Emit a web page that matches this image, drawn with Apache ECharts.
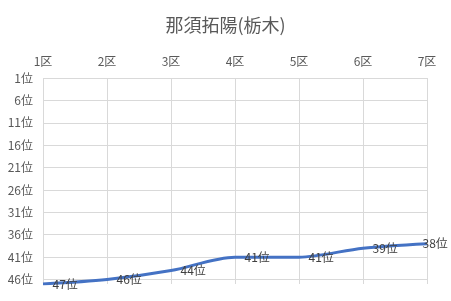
<!DOCTYPE html>
<html><head><meta charset="utf-8">
<script src="https://cdn.jsdelivr.net/npm/echarts@6/dist/echarts.min.js"></script>
<style>html,body{margin:0;padding:0;background:#fff}#c{width:451px;height:301px}</style>
</head><body><div id="c"></div>
<script>
const titleText = '那須拓陽(栃木)';
const categories = ['1区','2区','3区','4区','5区','6区','7区'];
const ranks = [47, 46, 44, 41, 41, 39, 38];
const rankMin = 1, rankMax = 47, rankStep = 5;
const font = '"Noto Sans CJK JP", "Noto Sans", sans-serif';
const chart = echarts.init(document.getElementById('c'), null, {renderer:'canvas'});
const seriesData = ranks.map((v, i) => i === ranks.length - 1
  ? {value: v, label: {offset: [-14, 0]}} : v);
chart.setOption({
  animation: false,
  title: {text: titleText, left: 'center', top: 11,
    textStyle: {fontFamily: font, fontSize: 18, fontWeight: 'normal', color: '#595959'}},
  grid: {left: 43, right: 24, top: 78, bottom: 17, containLabel: false},
  xAxis: {type: 'category', data: categories, position: 'top', boundaryGap: false,
    axisLine: {show: false}, axisTick: {show: false},
    axisLabel: {fontFamily: font, fontSize: 12, color: '#595959', margin: 11},
    splitLine: {show: true, lineStyle: {color: '#d9d9d9', width: 1}}},
  yAxis: {type: 'value', inverse: true, min: rankMin, max: rankMax, interval: rankStep,
    axisLine: {show: false}, axisTick: {show: false},
    axisLabel: {fontFamily: font, fontSize: 12, color: '#595959', margin: 10, showMaxLabel: false,
      formatter: v => v + '位'},
    splitLine: {show: true, showMaxLine: false, lineStyle: {color: '#d9d9d9', width: 1}}},
  series: [{type: 'line', data: seriesData, smooth: 0.3, symbol: 'circle', symbolSize: 1, showSymbol: true,
    itemStyle: {color: 'rgba(0,0,0,0)'},
    lineStyle: {color: '#4472C4', width: 3},
    label: {show: true, position: 'right', distance: 9, fontFamily: font, fontSize: 12, color: '#404040',
      formatter: p => p.value + '位'}}]
});
</script></body></html>
